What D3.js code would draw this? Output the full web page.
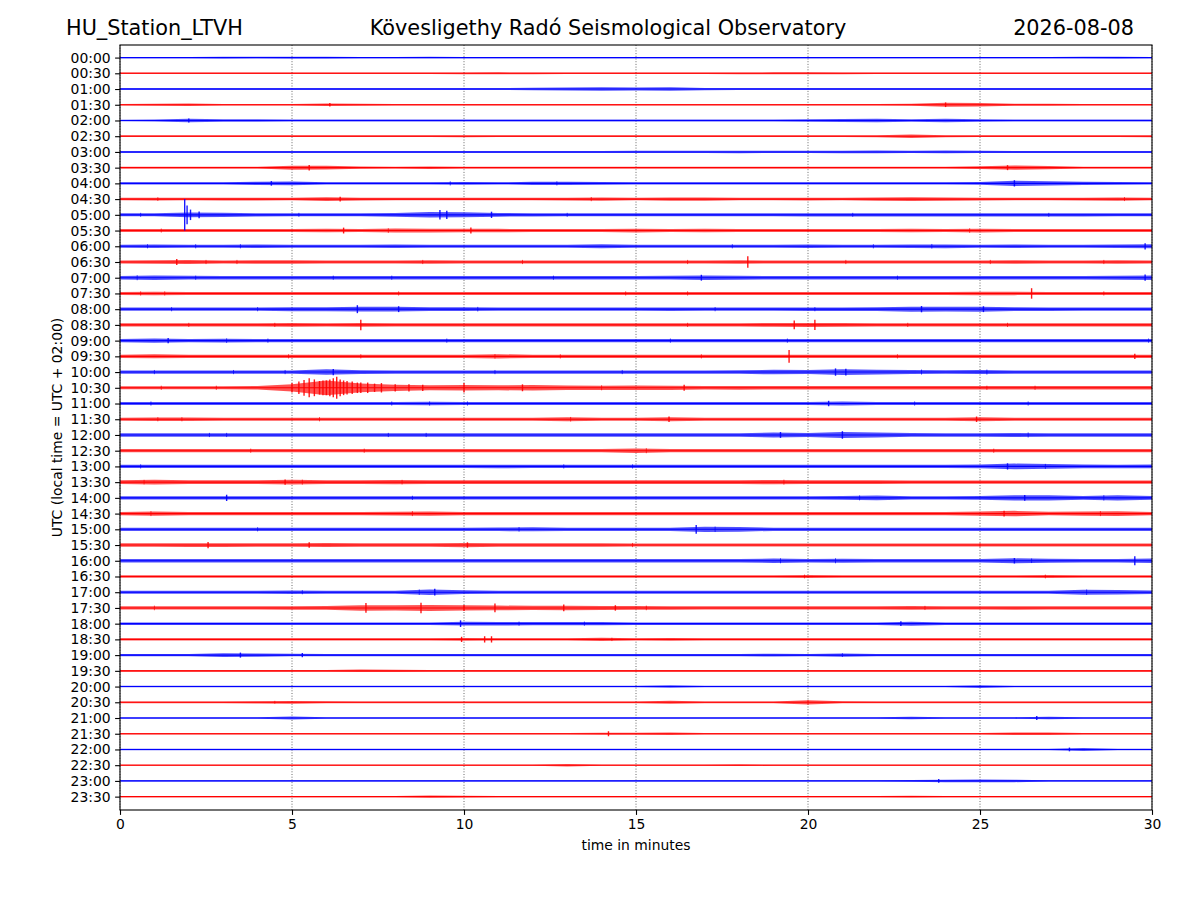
<!DOCTYPE html>
<html>
<head>
<meta charset="utf-8">
<script src="https://cdn.jsdelivr.net/npm/d3@7/dist/d3.min.js"></script>
<style>
  html, body { margin: 0; padding: 0; background: #fff; }
  svg { display: block; font-family: "DejaVu Sans", sans-serif; }
</style>
</head>
<body>
<svg id="chart" width="1200" height="900"></svg>
<script>
// ---------------- DATA ----------------
const stationName = "HU_Station_LTVH";
const observatory = "Kövesligethy Radó Seismological Observatory";
const dayLabel = "2026-08-08";
const xLabel = "time in minutes";
const yLabel = "UTC (local time = UTC + 02:00)";

const rowLabels = ["00:00","00:30","01:00","01:30","02:00","02:30","03:00","03:30","04:00","04:30",
  "05:00","05:30","06:00","06:30","07:00","07:30","08:00","08:30","09:00","09:30",
  "10:00","10:30","11:00","11:30","12:00","12:30","13:00","13:30","14:00","14:30",
  "15:00","15:30","16:00","16:30","17:00","17:30","18:00","18:30","19:00","19:30",
  "20:00","20:30","21:00","21:30","22:00","22:30","23:00","23:30"];
const rowColors = ["#0000ff", "#ff0000"];
const minuteTicks = [0, 5, 10, 15, 20, 25, 30];
// minutes at which each envelope value is read (0..30)
const minutes = [0,1,2,3,4,5,6,7,8,9,10,11,12,13,14,15,16,17,18,19,20,21,22,23,24,25,26,27,28,29,30];

// trace envelope (half amplitude, arbitrary units) read per minute for each half-hour line
const t0000 = [0.6,0.6,0.6,0.8,0.7,0.9,0.8,0.6,0.6,0.7,0.6,0.6,0.6,0.6,0.6,0.6,0.6,0.6,0.6,0.6,0.6,0.6,0.6,0.6,0.6,0.6,0.6,0.6,0.7,0.9,0.6];
const t0030 = [0.7,0.7,0.7,0.7,0.7,0.7,0.7,0.7,0.7,0.7,0.8,0.9,0.8,0.7,0.7,0.7,0.7,0.7,0.8,0.9,1.0,0.8,0.7,0.7,0.7,0.7,0.7,0.7,0.7,0.7,0.7];
const t0100 = [0.9,0.9,0.9,0.9,0.9,0.9,0.9,0.9,0.9,0.9,0.9,0.9,1.2,1.5,1.6,1.4,1.6,1.1,0.9,0.9,0.9,0.9,0.9,0.9,0.9,0.9,0.9,1.0,0.9,0.9,0.9];
const t0130 = [0.8,0.9,1.1,0.8,0.8,0.8,1.3,0.9,0.8,0.8,0.8,0.8,0.8,0.8,0.8,0.8,0.8,0.8,0.8,0.8,0.8,0.8,0.8,1.0,1.9,1.6,1.0,1.0,0.8,0.8,0.8];
const t0200 = [0.8,0.9,1.6,1.2,1.1,0.9,0.9,0.9,0.9,0.9,0.9,0.9,0.9,0.9,0.9,0.9,0.9,0.9,0.9,0.9,1.1,1.5,1.6,1.1,1.7,1.2,0.9,0.9,0.9,0.9,0.9];
const t0230 = [0.8,0.8,0.8,0.8,0.8,0.8,0.8,0.8,0.8,0.8,1.0,0.8,0.8,0.8,0.8,0.8,0.8,0.8,0.8,0.8,0.8,0.8,0.9,1.6,1.0,0.8,0.8,0.8,0.8,0.8,0.9];
const t0300 = [1.0,1.0,1.0,1.0,1.0,1.0,1.0,1.0,1.0,1.0,1.0,1.0,1.0,1.0,1.0,1.1,1.1,1.1,1.2,1.1,1.1,1.2,1.3,1.1,1.3,1.1,1.0,1.0,1.0,1.0,1.0];
const t0330 = [0.9,0.9,0.9,0.9,0.9,1.9,1.7,1.0,0.9,1.2,0.9,0.9,0.9,0.9,0.9,0.9,0.9,0.9,0.9,0.9,0.9,0.9,0.9,0.9,0.9,1.3,2.1,1.5,0.9,0.9,0.9];
const t0400 = [1.0,1.0,1.0,1.0,1.5,1.7,1.1,1.0,1.0,1.1,1.2,1.0,1.5,1.6,1.2,1.0,1.1,1.0,1.0,1.1,1.0,1.0,1.0,1.0,1.0,1.3,2.5,2.0,1.5,1.3,1.0];
const t0430 = [1.2,1.4,1.2,1.3,1.3,1.2,1.7,1.3,1.2,1.2,1.2,1.2,1.2,1.3,1.6,1.2,1.5,1.5,1.2,1.2,1.3,1.2,1.6,1.7,1.5,1.3,1.2,1.2,1.4,1.5,1.2];
const t0500 = [1.4,1.4,2.2,2.0,1.5,1.4,1.4,1.4,1.8,2.6,2.4,1.8,1.5,1.4,1.4,1.4,1.4,1.4,1.4,1.4,1.5,1.5,1.5,1.5,1.5,1.5,1.5,1.5,1.5,1.4,1.4];
const t0530 = [1.4,1.5,1.4,1.4,1.5,1.4,1.6,1.4,1.9,1.8,1.7,1.6,1.4,1.4,1.4,1.8,1.4,1.6,1.4,1.5,1.4,1.5,1.4,1.6,1.5,1.8,1.5,1.4,1.4,1.5,1.5];
const t0600 = [1.5,1.6,1.5,1.5,1.6,1.5,1.5,1.5,1.6,1.5,1.5,1.5,1.5,1.5,1.9,1.5,1.5,1.5,1.5,1.5,1.6,1.5,1.5,1.7,1.8,1.5,1.6,1.5,1.5,1.7,2.0];
const t0630 = [1.5,1.6,1.8,1.5,1.6,1.6,1.5,1.5,1.5,1.6,1.5,1.5,1.5,1.5,1.5,1.5,1.5,1.5,1.6,1.5,1.5,1.5,1.5,1.5,1.5,1.5,1.6,1.5,1.5,1.6,1.5];
const t0700 = [1.6,2.2,1.8,1.6,1.6,1.6,1.6,1.6,1.6,1.6,1.6,1.6,1.6,1.6,1.6,1.6,1.8,2.2,1.9,1.6,1.6,1.6,1.6,1.6,1.6,1.6,1.6,1.6,1.6,2.0,2.2];
const t0730 = [1.5,1.6,1.5,1.5,1.5,1.5,1.5,1.5,1.5,1.5,1.5,1.5,1.5,1.5,1.5,1.5,1.5,1.5,1.5,1.5,1.5,1.5,1.5,1.5,1.5,1.6,1.6,1.5,1.5,1.5,1.5];
const t0800 = [1.6,1.6,1.6,1.6,1.6,1.9,1.9,2.2,2.2,1.8,1.8,1.6,1.6,1.6,1.6,1.6,1.7,1.6,1.6,1.6,1.7,1.7,1.8,2.4,2.2,2.4,1.8,1.7,1.6,1.6,1.6];
const t0830 = [1.6,1.6,1.6,1.6,1.6,1.7,1.6,1.8,1.6,1.6,1.6,1.6,1.6,1.6,1.6,1.6,1.6,1.6,1.6,1.8,1.9,1.8,1.6,1.6,1.6,1.6,1.6,1.6,1.6,1.6,1.6];
const t0900 = [1.5,2.1,1.6,1.9,1.5,1.5,1.5,1.5,1.5,1.5,1.5,1.5,1.5,1.5,1.5,1.5,1.5,1.5,1.5,1.5,1.5,1.5,1.5,1.5,1.5,1.5,1.5,1.5,1.5,1.6,1.5];
const t0930 = [1.5,1.9,1.5,1.5,1.5,1.5,1.5,1.5,1.5,1.5,1.6,2.0,1.6,1.5,1.5,1.5,1.5,1.5,1.5,1.5,1.5,1.5,1.5,1.5,1.5,1.5,1.5,1.5,1.5,1.6,1.5];
const t1000 = [1.5,1.5,1.5,1.5,1.5,1.6,2.6,1.8,1.5,1.5,1.5,1.5,1.5,1.5,1.5,1.5,1.6,1.6,1.7,2.1,1.9,2.8,2.2,1.9,1.7,1.9,1.6,1.6,1.6,1.6,1.6];
const t1030 = [1.5,1.5,1.5,1.5,1.7,3.5,7.0,4.2,3.0,2.4,2.6,2.4,2.6,2.2,2.0,2.2,2.0,1.6,1.8,1.6,1.6,1.6,1.6,1.6,1.6,1.6,1.6,1.6,1.6,1.6,1.6];
const t1100 = [1.4,1.5,1.4,1.4,1.4,1.4,1.4,1.4,1.4,1.7,1.4,1.4,1.4,1.4,1.4,1.4,1.4,1.4,1.4,1.4,1.5,2.0,1.5,1.4,1.4,1.4,1.4,1.4,1.4,1.4,1.4];
const t1130 = [1.5,1.6,1.6,1.5,1.5,1.5,1.5,1.5,1.5,1.5,1.5,1.5,1.5,1.8,1.5,1.5,2.0,1.5,1.5,1.5,1.5,1.5,1.5,1.5,1.5,2.0,1.5,1.5,1.5,1.5,1.5];
const t1200 = [1.6,1.6,1.6,1.6,1.6,1.6,1.6,1.6,1.6,1.6,1.6,1.6,1.6,1.6,1.6,1.6,1.6,1.6,1.6,2.4,1.9,2.8,2.4,1.8,1.6,1.6,1.9,1.6,1.6,1.6,1.6];
const t1230 = [1.5,1.5,1.5,1.5,1.5,1.5,1.5,1.5,1.5,1.5,1.5,1.5,1.5,1.5,1.5,2.1,1.5,1.5,1.5,1.5,1.5,1.5,1.5,1.5,1.5,1.5,1.5,1.5,1.5,1.5,1.5];
const t1300 = [1.6,1.6,1.6,1.6,1.6,1.6,1.6,1.6,1.6,1.6,1.6,1.7,1.6,1.6,1.6,1.6,1.6,1.6,1.6,1.6,1.6,1.6,1.6,1.6,1.6,1.8,2.7,2.3,1.8,1.7,1.8];
const t1330 = [1.8,2.2,1.7,1.7,1.7,2.2,1.7,1.7,2.0,1.7,1.7,1.7,1.7,1.7,1.7,1.7,1.7,1.7,1.7,2.1,1.7,1.7,1.7,1.6,1.6,1.6,1.6,1.6,1.6,1.6,1.6];
const t1400 = [1.5,1.5,1.5,1.6,1.5,1.5,1.5,1.5,1.5,1.5,1.5,1.5,1.5,1.5,1.5,1.5,1.5,1.5,1.6,1.6,1.6,1.8,2.2,1.6,1.6,1.7,2.6,2.5,1.8,2.4,1.7];
const t1430 = [1.6,2.1,1.6,1.6,1.6,1.6,1.6,1.6,1.8,2.0,1.6,1.6,1.6,1.6,1.6,1.6,1.6,1.6,1.6,1.6,1.6,1.6,1.6,1.6,1.6,2.0,2.6,1.7,2.0,2.2,1.6];
const t1500 = [1.5,1.5,1.5,1.5,1.5,1.5,1.5,1.5,1.5,1.5,1.5,1.7,1.9,1.5,1.5,1.5,1.6,2.5,2.3,1.5,1.5,1.5,1.5,1.5,1.5,1.5,1.5,1.5,1.5,1.5,1.5];
const t1530 = [1.7,1.7,1.8,1.8,1.7,1.7,1.9,1.7,1.7,1.7,2.0,1.7,1.7,1.7,1.7,1.5,1.5,1.5,1.5,1.5,1.5,1.5,1.5,1.5,1.5,1.5,1.5,1.5,1.5,1.5,1.5];
const t1600 = [1.6,1.6,1.6,1.6,1.6,1.6,1.6,1.6,1.6,1.6,1.6,1.6,1.6,1.6,1.6,1.6,1.6,1.6,1.6,2.1,1.7,2.0,1.6,1.6,1.6,1.6,2.3,1.9,1.6,1.7,2.2];
const t1630 = [1.1,1.1,1.1,1.1,1.1,1.1,1.1,1.1,1.1,1.1,1.1,1.1,1.1,1.1,1.1,1.1,1.1,1.1,1.1,1.1,1.5,1.1,1.1,1.1,1.1,1.1,1.1,1.5,1.1,1.1,1.1];
const t1700 = [1.4,1.4,1.4,1.4,1.4,1.7,1.4,1.4,1.4,2.7,1.8,1.4,1.4,1.4,1.4,1.4,1.4,1.4,1.4,1.4,1.4,1.4,1.4,1.4,1.4,1.5,1.5,1.5,2.3,2.1,1.7];
const t1730 = [1.6,1.6,1.6,1.6,1.6,1.7,1.8,2.6,2.5,2.8,2.5,2.3,2.0,2.2,1.9,1.8,1.7,1.6,1.6,1.6,1.6,1.6,1.6,1.8,1.6,1.6,1.7,1.6,1.6,1.6,1.6];
const t1800 = [1.2,1.2,1.2,1.2,1.2,1.2,1.2,1.2,1.2,1.2,1.8,1.7,1.6,1.6,1.5,1.2,1.2,1.2,1.2,1.2,1.2,1.2,1.2,1.9,1.2,1.2,1.2,1.2,1.2,1.2,1.2];
const t1830 = [1.0,1.0,1.0,1.0,1.0,1.0,1.0,1.0,1.0,1.0,1.3,1.1,1.0,1.0,1.5,1.0,1.4,1.0,1.0,1.0,1.0,1.0,1.0,1.0,1.0,1.0,1.0,1.0,1.0,1.0,1.0];
const t1900 = [1.0,1.0,1.0,1.8,1.6,1.2,1.0,1.0,1.0,1.0,1.0,1.0,1.0,1.0,1.0,1.0,1.0,1.0,1.0,1.4,1.0,1.5,1.0,1.0,1.0,1.0,1.0,1.0,1.0,1.0,1.0];
const t1930 = [0.8,0.8,0.8,0.8,0.8,0.8,0.8,1.2,1.0,0.8,0.8,0.8,0.8,0.8,0.8,0.8,0.8,0.8,0.8,0.8,0.8,0.8,0.8,0.8,0.8,0.8,0.8,0.8,0.8,0.8,0.8];
const t2000 = [0.7,0.7,0.7,0.7,0.7,0.7,0.7,0.7,0.7,0.7,0.7,0.7,0.7,0.7,0.7,0.7,1.2,0.7,0.7,0.7,0.7,0.7,0.7,0.7,0.7,1.3,0.7,0.7,0.7,0.7,0.7];
const t2030 = [0.8,0.8,0.8,0.8,1.1,1.3,0.9,0.8,0.8,0.8,0.8,0.8,0.8,0.8,0.8,0.8,1.5,0.8,0.8,0.8,2.0,0.9,0.8,0.8,0.8,0.8,0.8,0.8,0.8,0.8,0.8];
const t2100 = [0.8,0.8,0.8,0.8,0.8,1.4,0.8,0.8,0.8,0.8,0.8,0.8,0.8,0.8,0.8,0.8,0.8,0.8,0.8,0.8,0.8,0.8,0.8,1.2,0.8,0.8,0.8,1.3,0.8,0.8,0.8];
const t2130 = [0.7,0.7,0.7,0.7,0.7,0.7,0.7,0.7,0.7,0.7,0.7,0.7,0.7,0.7,0.9,1.0,1.2,0.7,0.7,0.7,0.7,0.7,0.7,0.7,0.7,0.7,1.2,1.1,0.7,0.7,0.7];
const t2200 = [0.7,0.7,0.7,0.7,0.7,0.7,0.7,0.7,0.7,0.7,0.7,0.7,0.7,0.7,0.7,0.7,0.7,0.7,0.7,0.7,0.7,0.7,0.7,0.7,0.7,0.7,0.7,0.7,1.4,0.7,0.7];
const t2230 = [0.6,0.6,0.6,0.6,0.6,0.6,0.6,0.6,0.6,0.6,0.6,0.6,0.6,1.2,0.6,0.6,0.6,0.6,0.8,0.6,0.6,0.6,0.6,0.6,0.6,0.6,0.6,0.6,0.6,0.6,0.6];
const t2300 = [0.6,0.6,0.6,0.6,0.6,0.6,0.6,0.6,0.6,0.6,0.6,0.6,0.6,0.6,0.6,0.6,0.6,0.6,0.6,0.6,0.6,0.6,0.6,0.8,1.2,1.3,1.2,0.6,0.6,0.6,0.6];
const t2330 = [0.6,0.6,0.6,0.6,0.6,0.6,0.6,0.6,0.6,1.1,0.8,0.6,0.6,0.6,0.6,0.6,0.7,0.6,0.6,0.6,0.6,0.6,0.6,0.8,0.6,0.6,0.6,0.6,0.6,0.6,0.6];

// transient peaks: [line index, minute, half amplitude]
const spikes = [
  [3,6.1,1.6],[3,24.0,2.2],[4,2.0,2.0],[7,5.5,2.6],[7,25.8,2.4],[8,4.4,2.2],[8,26.0,3.0],[9,6.4,2.2],
  [10,1.88,15],[10,1.95,9],[10,2.05,5],[10,2.3,3.2],[10,9.3,4.5],[10,9.5,4.0],[10,10.8,3.0],
  [11,6.5,2.8],[11,10.2,2.8],[12,29.8,3.0],[13,18.25,5.5],[13,1.65,2.8],[14,29.8,3.0],[14,16.9,2.8],
  [15,26.5,5.0],[16,6.9,3.8],[16,8.1,2.8],[16,23.3,3.0],[16,25.1,2.8],
  [17,7.0,5.0],[17,19.6,4.2],[17,20.2,4.8],[18,1.4,2.4],[19,19.45,6.0],[19,29.5,2.5],
  [20,20.8,3.5],[20,21.1,3.2],[20,6.2,3.0],
  [21,5.0,4.5],[21,5.2,6.0],[21,5.35,7.5],[21,5.5,9.0],[21,5.65,8.0],[21,5.8,6.5],[21,5.9,7.0],
  [21,6.0,7.0],[21,6.1,8.0],[21,6.2,9.0],[21,6.3,10.5],[21,6.4,8.0],[21,6.5,7.0],[21,6.6,6.5],
  [21,6.75,6.0],[21,6.9,5.0],[21,7.0,5.0],[21,7.2,5.0],[21,7.4,4.0],[21,7.6,4.5],[21,8.0,3.5],
  [21,8.4,3.5],[21,8.8,3.0],[21,10.0,4.5],[21,11.7,3.3],[21,16.4,2.8],
  [22,20.6,2.6],[23,15.96,2.6],[23,24.9,2.6],[24,21.0,3.6],[24,19.2,2.8],[26,25.8,3.0],
  [27,4.8,2.6],[28,3.1,3.0],[28,26.3,2.8],[29,25.7,2.8],[30,16.75,4.2],
  [31,2.56,3.0],[31,5.5,2.6],[31,10.1,2.6],[32,29.5,4.2],[32,26.0,2.6],[34,9.15,3.2],
  [35,7.15,4.6],[35,8.75,5.0],[35,10.9,4.2],[35,10.0,2.8],[35,12.9,3.2],[35,14.4,2.6],
  [36,9.9,3.2],[36,22.7,2.2],[37,9.93,2.5],[37,10.6,3.0],[37,10.8,3.0],
  [38,3.5,2.4],[38,5.3,2.0],[42,26.65,2.0],[43,14.2,2.4],[44,27.6,1.8],[46,23.8,1.8]
];

// small noise bursts seen along the lines: [line index, minute, half amplitude]
const minorPeaks = [
  [8,9.6,2.0],[8,12.7,2.0],[9,1.1,1.8],[9,13.7,2.0],[9,29.2,1.9],[10,0.6,1.9],[10,5.2,1.9],[10,13.0,1.9],[10,21.3,1.9],[10,27.0,1.9],
  [11,1.2,1.9],[11,7.8,2.2],[11,24.7,2.2],[12,0.8,2.0],[12,2.2,2.0],[12,3.5,2.0],[12,17.8,2.0],[12,21.9,2.0],[12,23.6,2.2],
  [13,2.5,2.0],[13,3.4,2.0],[13,8.8,2.0],[13,11.7,2.0],[13,16.5,2.0],[13,21.1,2.0],[13,25.3,2.0],[13,28.6,2.0],
  [14,0.5,2.4],[14,2.2,2.0],[14,6.2,2.0],[14,7.9,2.0],[14,12.6,2.0],[14,22.6,2.0],
  [15,0.6,2.0],[15,1.3,2.0],[15,8.1,2.0],[15,14.7,2.0],[15,16.5,2.0],[15,28.6,2.0],
  [16,1.5,2.0],[16,4.0,2.0],[16,10.4,2.2],[16,17.3,2.0],[16,20.2,2.0],
  [17,2.0,2.0],[17,4.5,2.0],[17,16.5,2.0],[17,22.9,2.0],[17,25.8,2.0],
  [18,3.1,2.2],[18,4.3,2.0],[18,9.5,2.0],[18,16.0,2.0],[18,19.4,2.0],[18,29.9,2.0],
  [19,4.9,2.0],[19,7.0,2.0],[19,10.9,2.2],[19,12.8,2.0],[19,16.9,2.0],[19,22.6,2.0],
  [20,1.0,2.0],[20,3.3,2.0],[20,4.8,2.0],[20,10.9,2.0],[20,14.6,2.0],[20,23.3,2.4],[20,25.2,2.4],
  [21,1.2,2.0],[21,2.8,2.0],[21,14.0,2.4],[21,25.2,2.0],[21,26.6,2.0],
  [22,0.9,2.0],[22,7.9,2.0],[22,9.0,2.0],[22,10.1,2.0],[22,23.1,2.0],[22,26.4,2.0],
  [23,1.1,2.0],[23,1.8,2.0],[23,5.8,2.0],[23,13.1,2.2],
  [24,2.6,2.0],[24,3.1,2.0],[24,7.8,2.0],[24,8.9,2.0],[24,26.4,2.4],
  [25,3.8,2.0],[25,7.1,2.0],[25,15.3,2.4],[25,25.4,2.0],
  [26,0.6,2.0],[26,12.9,2.0],[26,14.9,2.0],[26,26.9,2.4],
  [27,0.7,2.2],[27,5.3,2.4],[27,8.2,2.2],[27,19.3,2.4],
  [28,8.5,2.0],[28,21.5,2.4],[28,28.6,2.6],
  [29,0.9,2.4],[29,8.5,2.4],[29,28.5,2.4],
  [30,4.0,2.0],[30,11.6,2.2],[30,17.3,2.6],
  [31,14.9,2.0],[31,25.0,2.0],
  [32,19.2,2.4],[32,20.8,2.4],[32,26.5,2.2],
  [33,19.9,1.8],[33,26.9,1.8],
  [34,5.3,2.0],[34,8.7,2.6],[34,28.1,2.6],
  [35,1.0,2.2],[35,15.3,2.2],[35,23.4,2.0],
  [36,11.6,2.0],[36,13.5,2.0],[37,14.3,1.6],[38,21.0,1.8],[41,20.0,2.2],[41,4.5,1.4]
];

const traces = [t0000,t0030,t0100,t0130,t0200,t0230,t0300,t0330,t0400,t0430,t0500,t0530,
  t0600,t0630,t0700,t0730,t0800,t0830,t0900,t0930,t1000,t1030,t1100,t1130,
  t1200,t1230,t1300,t1330,t1400,t1430,t1500,t1530,t1600,t1630,t1700,t1730,
  t1800,t1830,t1900,t1930,t2000,t2030,t2100,t2130,t2200,t2230,t2300,t2330];

// ---------------- DRAW ----------------
const svg = d3.select("#chart");
const plot = { left: 120, right: 1152, top: 45, bottom: 810 };

const x = d3.scaleLinear().domain([0, 30]).range([plot.left, plot.right]);
const y = d3.scaleLinear().domain([-0.8, 47.85]).range([plot.top, plot.bottom]);
const step = y(1) - y(0);
const amp = d3.scaleLinear().domain([0, 15]).range([0, step]);

// grid
svg.append("g").selectAll("line").data(minuteTicks).join("line")
  .attr("x1", d => x(d)).attr("x2", d => x(d))
  .attr("y1", plot.top).attr("y2", plot.bottom)
  .attr("stroke", "#444").attr("stroke-width", 0.8)
  .attr("stroke-dasharray", "1,1.7");

svg.append("clipPath").attr("id", "clip")
  .append("rect").attr("x", plot.left).attr("y", plot.top)
  .attr("width", plot.right - plot.left).attr("height", plot.bottom - plot.top);

const traceG = svg.append("g").attr("clip-path", "url(#clip)");

traces.forEach((env, i) => {
  const yc = y(i);
  const color = rowColors[i % 2];
  const area = d3.area()
    .x((d, k) => x(minutes[k]))
    .y0(d => yc + amp(d))
    .y1(d => yc - amp(d));
  traceG.append("path").datum(env)
    .attr("d", area)
    .attr("fill", color).attr("fill-opacity", 0.68);
  traceG.append("path").datum([0, 30])
    .attr("d", d3.line().x(d => x(d)).y(() => yc))
    .attr("stroke", color).attr("stroke-width", 1.1).attr("fill", "none");
});

function drawPeaks(list, width, opacity) {
  list.forEach(([row, m, a]) => {
    const yc = y(row);
    traceG.append("path").datum([[m, -a], [m, a]])
      .attr("d", d3.line().x(d => x(d[0])).y(d => yc + amp(d[1])))
      .attr("stroke", rowColors[row % 2]).attr("stroke-width", width)
      .attr("stroke-opacity", opacity).attr("fill", "none");
  });
}
drawPeaks(minorPeaks, 1.0, 0.7);
drawPeaks(spikes, 1.4, 0.9);

// axes
const xAxis = d3.axisBottom(x).tickValues(minuteTicks).tickFormat(d3.format("d"))
  .tickSize(4.9).tickPadding(4.5);
const gx = svg.append("g").attr("transform", `translate(0,${plot.bottom})`).call(xAxis);
const yAxis = d3.axisLeft(y).tickValues(d3.range(rowLabels.length))
  .tickFormat(i => rowLabels[i]).tickSize(4.9).tickPadding(4.5);
const gy = svg.append("g").attr("transform", `translate(${plot.left},0)`).call(yAxis);
[gx, gy].forEach(g => {
  g.select(".domain").remove();
  g.selectAll("line").attr("stroke", "#000").attr("stroke-width", 1.1);
  g.selectAll("text").attr("font-size", "13.9px").attr("fill", "#000")
    .attr("font-family", "DejaVu Sans, sans-serif");
});

// frame
svg.append("rect").attr("x", plot.left).attr("y", plot.top)
  .attr("width", plot.right - plot.left).attr("height", plot.bottom - plot.top)
  .attr("fill", "none").attr("stroke", "#000").attr("stroke-width", 1.1);

// labels
svg.append("text").attr("x", (plot.left + plot.right) / 2).attr("y", 850)
  .attr("text-anchor", "middle").attr("font-size", "13.9px").text(xLabel);
svg.append("text").attr("transform", `translate(62,${(plot.top + plot.bottom) / 2}) rotate(-90)`)
  .attr("text-anchor", "middle").attr("font-size", "13.9px").text(yLabel);

// titles
svg.append("text").attr("x", 66).attr("y", 35).attr("font-size", "20.8px").text(stationName);
svg.append("text").attr("x", 608).attr("y", 35).attr("text-anchor", "middle")
  .attr("font-size", "20.8px").text(observatory);
svg.append("text").attr("x", 1134).attr("y", 35).attr("text-anchor", "end")
  .attr("font-size", "20.8px").text(dayLabel);
</script>
</body>
</html>
